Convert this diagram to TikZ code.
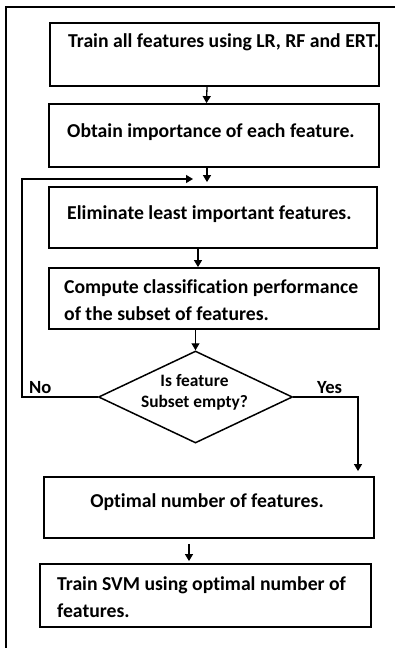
\documentclass[tikz,border=0pt]{standalone}
\usepackage{fontspec}
\setmainfont{Carlito}[Ligatures={NoCommon}]
\usetikzlibrary{arrows.meta,shapes.geometric,calc}
\begin{document}
\begin{tikzpicture}[x=1pt,y=-1pt,
  box/.style={draw, line width=1.8pt, rectangle, inner sep=0pt},
  decision/.style={draw, line width=1.5pt, diamond, inner sep=0pt},
  txt/.style={font=\fontsize{19.7}{27}\selectfont\bfseries, inner sep=0pt, align=left, anchor=base west},
  dtxt/.style={font=\fontsize{17.4}{21}\selectfont\bfseries, inner sep=0pt, align=center, anchor=base},
  lbl/.style={font=\fontsize{18.6}{20}\selectfont\bfseries, inner sep=0pt, anchor=base west},
  link/.style={line width=1.3pt},
  arr/.style={link, -{Triangle[length=7pt,width=8pt]}}]
\useasboundingbox[fill=white] (0,0) rectangle (395,648);
% outer frame
\draw[line width=1.5pt] (6,648) -- (6,7) -- (395,7);

% process boxes
\node[box, minimum width=329pt, minimum height=63pt] (b1) at (214.5,54.5) {};
\node[box, minimum width=330pt, minimum height=63pt] (b2) at (214,135.5) {};
\node[box, minimum width=328pt, minimum height=61pt] (b3) at (213,217.5) {};
\node[box, minimum width=330pt, minimum height=61pt] (b4) at (214,298.5) {};
\node[box, minimum width=330pt, minimum height=61pt] (b5) at (209,507.5) {};
\node[box, minimum width=331pt, minimum height=63pt] (b6) at (205.5,595.5) {};
\node[decision, minimum width=194pt, minimum height=92pt, aspect=2.1] (d) at (195.5,397) {};

% box texts (multi-line nodes sit on the baseline of their last line)
\node[txt] (t1) at (68,47.7) {Train all features using LR, RF and ERT.};
\node[txt] (t2) at (67,137) {Obtain importance of each feature.};
\node[txt] (t3) at (67,219) {Eliminate least important features.};
\node[txt] (t4) at (64,320) {Compute classification performance\\of the subset of features.};
\node[txt, anchor=base] (t5) at (207,507) {Optimal number of features.};
\node[txt] (t6) at (57,617) {Train SVM using optimal number of\\features.};
\node[dtxt] (td) at (194.5,407) {Is feature\\Subset empty?};
\node[lbl] (no) at (29,393) {No};
\node[lbl] (yes) at (317,393) {Yes};

% helper points for the loop and the exit
\coordinate (looptip) at (193,179);
\coordinate (nocol) at (22,0);
\coordinate (yescol) at (358,0);

% connectors
\draw[arr] ([xshift=-7.5pt]b1.south) -- ([xshift=-7.5pt]b2.north);
\draw[arr] ([xshift=-7pt]b2.south) -- ([xshift=-6pt,yshift=4pt]b3.north);
\draw[arr] ([xshift=-15pt]b3.south) -- ([xshift=-16pt]b4.north);
\draw[arr] (b4.south -| d.north) -- (d.north);
\draw[arr] (d.west) -- (d.west -| nocol) -- (nocol |- looptip) -- (looptip);
\draw[arr] (d.east) -- (d.east -| yescol) -- ($(yescol |- b5.north)+(0,-5)$);
\draw[arr] ($(b5.south)+(-20,5)$) -- ($(b6.north)+(-16.5,-2)$);
\end{tikzpicture}
\end{document}
